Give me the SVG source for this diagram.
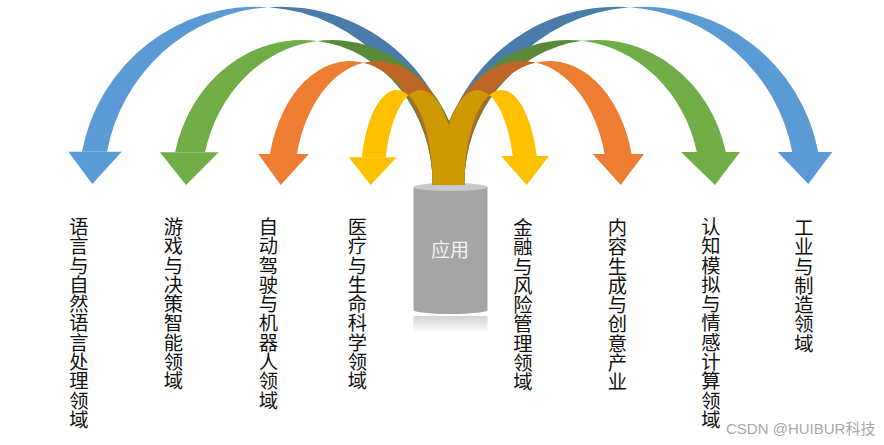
<svg xmlns="http://www.w3.org/2000/svg" width="884" height="445" viewBox="0 0 884 445">
<defs>
<style>
.lbl{font-family:"Noto Sans CJK SC","Noto Sans CJK JP",sans-serif;font-size:19.3px;fill:#111;writing-mode:vertical-rl;}
.b{fill:#5B9BD5}.bd{fill:#497CAA}
.g{fill:#70AD47}.gd{fill:#5A8A39}
.o{fill:#ED7D31}.od{fill:#BE6427}
.y{fill:#FFC000}.yd{fill:#CC9A00}
</style>
<linearGradient id="refl" x1="0" y1="0" x2="0" y2="1">
<stop offset="0" stop-color="#d4d4d4"/>
<stop offset="1" stop-color="#ffffff"/>
</linearGradient>
</defs>
<rect width="884" height="445" fill="#ffffff"/>

<g id="node-app">
<rect x="413.5" y="316" width="74" height="17" fill="url(#refl)"/>
<rect x="413.5" y="187" width="74" height="123" fill="#A5A5A5"/>
<ellipse cx="450.5" cy="310" rx="37" ry="4" fill="#A5A5A5"/>
<ellipse cx="450.5" cy="187" rx="37" ry="4" fill="#C9C9C9"/>
<text x="450" y="257" text-anchor="middle" font-family="Noto Sans CJK SC, sans-serif" font-size="19" fill="#F2F2F2">应用</text>
</g>

<g id="connectors">
<!-- blue -->
<path class="bd" d="M268.3,7.14 A176.9,178.3 0 0 1 457.7,185 L432.7,185 A176.9,178.3 0 0 0 268.3,7.14 Z"/>
<path class="bd" d="M629.8,7.17 A178.5,178.3 0 0 0 438.3,185 L464.3,185 A178.5,178.3 0 0 1 629.8,7.17 Z"/>
<path class="b" d="M82,151.7 A176.9,178.3 0 0 1 268.3,7.14 A176.9,178.3 0 0 0 107,151.7 Z"/>
<polygon class="b" points="68.3,151.7 121.7,151.7 92.3,184"/>
<path class="b" d="M818.22,152 A178.5,178.3 0 0 0 629.8,7.17 A178.5,178.3 0 0 1 792.22,152 Z"/>
<polygon class="b" points="777.7,152 832.3,152 808.3,184"/>
<!-- green -->
<path class="gd" d="M317.2,40.96 A130.5,145 0 0 1 462.7,185 L432.7,185 A130.5,145 0 0 0 317.2,40.96 Z"/>
<path class="gd" d="M582.3,40.87 A132.5,145 0 0 0 435.3,185 L464.3,185 A132.5,145 0 0 1 582.3,40.87 Z"/>
<path class="g" d="M175.06,152.3 A130.5,145 0 0 1 317.2,40.96 A130.5,145 0 0 0 205.06,152.3 Z"/>
<polygon class="g" points="160,152.3 218.7,152.3 186,185"/>
<path class="g" d="M725.82,152 A132.5,145 0 0 0 582.3,40.87 A132.5,145 0 0 1 696.82,152 Z"/>
<polygon class="g" points="681,152 740,152 715,185"/>
<!-- orange -->
<path class="od" d="M363.5,62.66 A82.7,124 0 0 1 459.7,185 L432.7,185 A82.7,124 0 0 0 363.5,62.66 Z"/>
<path class="od" d="M535.8,62.57 A85,124 0 0 0 437.3,185 L464.3,185 A85,124 0 0 1 535.8,62.57 Z"/>
<path class="o" d="M269.93,154 A82.7,124 0 0 1 363.5,62.66 A82.7,124 0 0 0 296.93,154 Z"/>
<polygon class="o" points="258.3,154 309,154 280.7,185"/>
<path class="o" d="M631.6,154 A85,124 0 0 0 535.8,62.57 A85,124 0 0 1 604.6,154 Z"/>
<polygon class="o" points="592.7,154 644,154 620.7,185"/>
<!-- yellow -->
<path class="yd" d="M408.4,95.34 A36.3,95 0 0 1 456.7,185 L432.7,185 A36.3,95 0 0 0 408.4,95.34 Z"/>
<path class="yd" d="M489.4,95.11 A37.1,95 0 0 0 440.3,185 L464.3,185 A37.1,95 0 0 1 489.4,95.11 Z"/>
<path class="y" d="M361.68,157.3 A36.3,95 0 0 1 408.4,95.34 A36.3,95 0 0 0 385.68,157.3 Z"/>
<polygon class="y" points="348.7,157.3 396.7,157.3 370.7,185"/>
<path class="y" d="M536.73,156 A37.1,95 0 0 0 489.4,95.11 A37.1,95 0 0 1 512.73,156 Z"/>
<polygon class="y" points="501,156 549,156 526.7,185"/>
</g>

<g id="node-nlp"><text class="lbl" x="79" y="217">语言与自然语言处理领域</text></g>
<g id="node-game"><text class="lbl" x="173.5" y="217">游戏与决策智能领域</text></g>
<g id="node-auto"><text class="lbl" x="268.5" y="217">自动驾驶与机器人领域</text></g>
<g id="node-med"><text class="lbl" x="357.5" y="217">医疗与生命科学领域</text></g>
<g id="node-fin"><text class="lbl" x="523" y="218">金融与风险管理领域</text></g>
<g id="node-content"><text class="lbl" x="617.5" y="218">内容生成与创意产业</text></g>
<g id="node-cog"><text class="lbl" x="711" y="217">认知模拟与情感计算领域</text></g>
<g id="node-ind"><text class="lbl" x="804" y="218">工业与制造领域</text></g>

<text x="726" y="434" font-family="Liberation Sans, Noto Sans CJK SC, sans-serif" font-size="15" fill="#A8A8A8">CSDN @HUIBUR科技</text>
</svg>
